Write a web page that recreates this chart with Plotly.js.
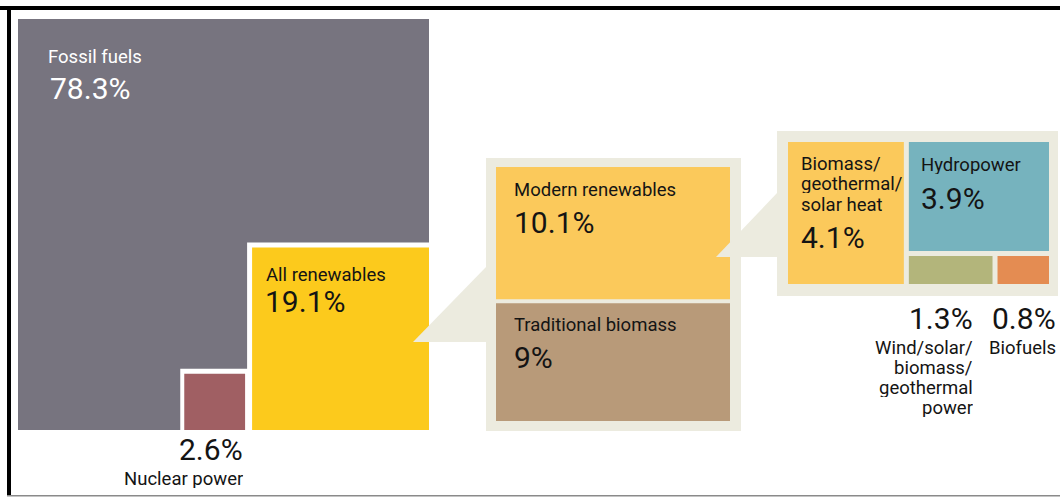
<!DOCTYPE html>
<html><head><meta charset="utf-8">
<script src="https://cdn.plot.ly/plotly-3.0.1.min.js"></script>
<style>html,body{margin:0;padding:0;background:#fff;}#chart{width:1060px;height:498px;}</style>
</head><body><div id="chart"></div>
<script>
// ---------------- data ----------------
const topLabels = ['Fossil fuels', 'Nuclear power', 'All renewables'];
const topValues = [78.3, 2.6, 19.1];
const renewLabels = ['Modern renewables', 'Traditional biomass'];
const renewValues = [10.1, 9];
const modernLabels = ['Biomass/<br>geothermal/<br>solar heat', 'Hydropower', 'Wind/solar/<br>biomass/<br>geothermal<br>power', 'Biofuels'];
const modernValues = [4.1, 3.9, 1.3, 0.8];

// ---------------- styles ----------------
const C = {
  fossil: '#77747f', nuclear: '#a05f63', renew: '#fcca1c',
  modern: '#fbc95b', trad: '#b89a79', callout: '#ecebdf',
  heat: '#fbc95b', hydro: '#76b3be', wind: '#b3b57b', biofuels: '#e48c52',
  text: '#141414'
};
const FONT = 'Roboto, "Open Sans", sans-serif';
const pct = v => v + '%';
const sum = a => a.reduce((s, v) => s + v, 0);

const traces = [];
function rectTrace(r, color) {
  traces.push({type: 'scatter', mode: 'lines', fill: 'toself', fillcolor: color,
    line: {width: 0, color: color}, hoverinfo: 'skip', showlegend: false,
    x: [r.x0, r.x1, r.x1, r.x0, r.x0], y: [r.y0, r.y0, r.y1, r.y1, r.y0]});
}
function polyTrace(pts, color) {
  traces.push({type: 'scatter', mode: 'lines', fill: 'toself', fillcolor: color,
    line: {width: 0, color: color}, hoverinfo: 'skip', showlegend: false,
    x: pts.map(p => p[0]).concat([pts[0][0]]), y: pts.map(p => p[1]).concat([pts[0][1]])});
}
const annotations = [];
function label(x, y, text, size, color, xanchor, lineH) {
  text.split('<br>').forEach((line, i) => {
    annotations.push({x: x, y: y + i * (lineH || 0), xref: 'x', yref: 'y', text: line,
      showarrow: false, xanchor: xanchor || 'left', yanchor: 'middle',
      height: Math.round(size * 0.95), borderpad: 0,
      font: {family: FONT, size: size, color: color}});
  });
}

// ---------------- group 1: world total (area ~ value) ----------------
const k1 = 41.1, R1 = 429, B1 = 430;
const total = sum(topValues);
const S = Math.sqrt(total) * k1;
const big = {x0: R1 - S, x1: R1, y0: B1 - S, y1: B1};
function sizeFromArea(v, k, aspect) {
  const A = v * k * k;
  return {w: Math.sqrt(A * aspect), h: Math.sqrt(A / aspect)};
}
const rs = sizeFromArea(topValues[2], k1, 0.97);
const ren = {x0: R1 - rs.w, x1: R1, y0: B1 - rs.h, y1: B1};
const renWhite = {x0: ren.x0 - 5, x1: R1, y0: ren.y0 - 5, y1: B1};
const ns = sizeFromArea(topValues[1], k1, 1.175);
const nucOuter = {x0: ren.x0 - ns.w, x1: ren.x0, y0: B1 - ns.h, y1: B1};
const nuc = {x0: nucOuter.x0 + 4, x1: ren.x0 - 7, y0: nucOuter.y0 + 5, y1: B1};

rectTrace(big, C.fossil);
rectTrace(renWhite, '#ffffff');
rectTrace(nucOuter, '#ffffff');
rectTrace(nuc, C.nuclear);
rectTrace(ren, C.renew);

// ---------------- group 2: renewables split ----------------
const c2 = {x0: 486, x1: 741, y0: 158, y1: 431};
const p2 = {l: 10, t: 9, r: 11, b: 10}, gap2 = 4;
const inner2H = (c2.y1 - p2.b) - (c2.y0 + p2.t) - gap2;
const rTot = sum(renewValues);
const modH = inner2H * renewValues[0] / rTot;
const mod = {x0: c2.x0 + p2.l, x1: c2.x1 - p2.r, y0: c2.y0 + p2.t, y1: c2.y0 + p2.t + modH};
const trad = {x0: mod.x0, x1: mod.x1, y0: mod.y1 + gap2, y1: c2.y1 - p2.b};

// wedge from renewables to callout 1
const w1 = {tipX: ren.x1 - 16, baseY: 342, rise: 76};
polyTrace([[w1.tipX, w1.baseY], [c2.x0 + 1, w1.baseY - w1.rise], [c2.x0 + 1, w1.baseY]], C.callout);
rectTrace(c2, C.callout);
rectTrace(mod, C.modern);
rectTrace(trad, C.trad);

// ---------------- group 3: modern renewables split ----------------
const c3 = {x0: 777, x1: 1058, y0: 131, y1: 296};
const p3 = {l: 11, t: 11, r: 9, b: 12}, gap3 = 5, smallRowH = 28;
const in3 = {x0: c3.x0 + p3.l, x1: c3.x1 - p3.r, y0: c3.y0 + p3.t, y1: c3.y1 - p3.b};
// column split by side length (square root of the two sides' totals)
const leftSide = Math.sqrt(modernValues[0]);
const rightSide = Math.sqrt(sum(modernValues.slice(1)));
const leftW = (in3.x1 - in3.x0 - gap3) * leftSide / (leftSide + rightSide);
const heat = {x0: in3.x0, x1: in3.x0 + leftW, y0: in3.y0, y1: in3.y1};
const rightX0 = heat.x1 + gap3;
const hydro = {x0: rightX0, x1: in3.x1, y0: in3.y0, y1: in3.y1 - smallRowH - gap3};
const rowW = in3.x1 - rightX0 - gap3;
const windW = rowW * modernValues[2] / (modernValues[2] + modernValues[3]);
const wind = {x0: rightX0, x1: rightX0 + windW, y0: in3.y1 - smallRowH, y1: in3.y1};
const bio = {x0: wind.x1 + gap3, x1: in3.x1, y0: wind.y0, y1: in3.y1};

// wedge from modern renewables to callout 2
const w2 = {tipX: mod.x1 - 14, baseY: 257, rise: 65};
polyTrace([[w2.tipX, w2.baseY], [c3.x0 + 1, w2.baseY - w2.rise], [c3.x0 + 1, w2.baseY]], C.callout);
rectTrace(c3, C.callout);
rectTrace(heat, C.heat);
rectTrace(hydro, C.hydro);
rectTrace(wind, C.wind);
rectTrace(bio, C.biofuels);

// ---------------- labels ----------------
const LS = 18.5, NS = 30;
label(big.x0 + 29, big.y0 + 38, topLabels[0], LS, '#ffffff');
label(big.x0 + 31, big.y0 + 69, pct(topValues[0]), NS, '#ffffff');
label(ren.x0 + 13, ren.y0 + 27, topLabels[2], LS, C.text);
label(ren.x0 + 12, ren.y0 + 54, pct(topValues[2]), NS, C.text);
label(nuc.x1 - 1, B1 + 19, pct(topValues[1]), NS, C.text, 'right');
label(nuc.x1 - 1, B1 + 49, topLabels[1], LS, C.text, 'right');

label(mod.x0 + 17, mod.y0 + 23, renewLabels[0], LS, C.text);
label(mod.x0 + 17, mod.y0 + 55, pct(renewValues[0]), NS, C.text);
label(trad.x0 + 17, trad.y0 + 22, renewLabels[1], LS, C.text);
label(trad.x0 + 17, trad.y0 + 54, pct(renewValues[1]), NS, C.text);

label(heat.x0 + 12, heat.y0 + 22, modernLabels[0], LS, C.text, 'left', 20.3);
label(heat.x0 + 12, heat.y0 + 95, pct(modernValues[0]), NS, C.text);
label(hydro.x0 + 11, hydro.y0 + 23, modernLabels[1], LS, C.text);
label(hydro.x0 + 11, hydro.y0 + 56, pct(modernValues[1]), NS, C.text);
label(c3.x1 - 84, c3.y1 + 22, pct(modernValues[2]), NS, C.text, 'right');
label(c3.x1 - 84, c3.y1 + 52, modernLabels[2], LS, C.text, 'right', 20);
label(c3.x1 - 1, c3.y1 + 22, pct(modernValues[3]), NS, C.text, 'right');
label(c3.x1 - 1, c3.y1 + 52, modernLabels[3], LS, C.text, 'right');

// ---------------- frame ----------------
const shapes = [
  {type: 'line', xref: 'paper', yref: 'paper', x0: 0, x1: 1, y0: 1 - 8 / 498, y1: 1 - 8 / 498, line: {color: '#000', width: 4}},
  {type: 'line', xref: 'paper', yref: 'paper', x0: 9 / 1060, x1: 9 / 1060, y0: 1 - 6 / 498, y1: 1 - 496 / 498, line: {color: '#000', width: 4}},
  {type: 'line', xref: 'paper', yref: 'paper', x0: 7 / 1060, x1: 1, y0: 1 - 495.8 / 498, y1: 1 - 495.8 / 498, line: {color: '#8a8a8a', width: 1.5}}
];

Plotly.newPlot('chart', traces, {
  width: 1060, height: 498, autosize: false,
  margin: {l: 0, r: 0, t: 0, b: 0, pad: 0},
  paper_bgcolor: '#ffffff', plot_bgcolor: '#ffffff',
  showlegend: false,
  xaxis: {range: [0, 1060], visible: false, fixedrange: true},
  yaxis: {range: [498, 0], visible: false, fixedrange: true},
  annotations: annotations, shapes: shapes
}, {staticPlot: true, displayModeBar: false});
</script>
</body></html>
